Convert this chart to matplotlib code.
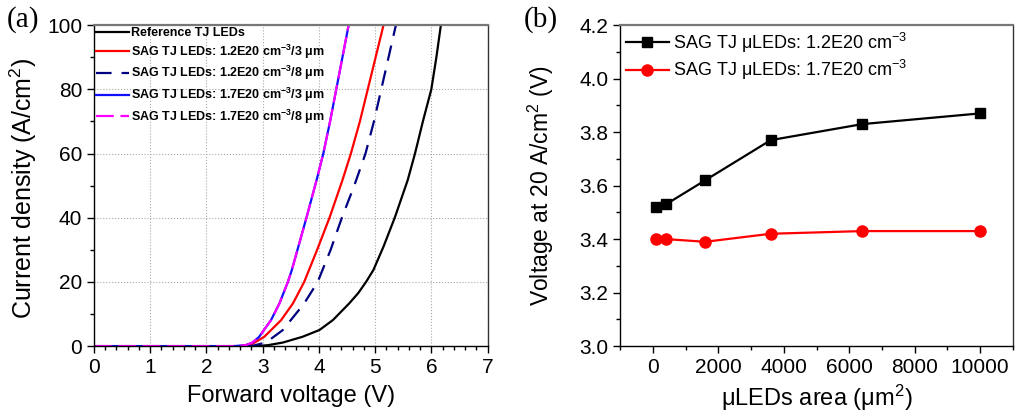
import matplotlib
matplotlib.use('Agg')
import matplotlib.pyplot as plt
from matplotlib.ticker import MultipleLocator, FormatStrFormatter

plt.rcParams['font.family'] = ['Liberation Sans', 'DejaVu Sans']
plt.rcParams['mathtext.default'] = 'regular'

# ---------------- panel (a): J-V curves ----------------
v_ref = [0, 2.9, 3.1, 3.36, 3.71, 4.01, 4.25, 4.54, 4.70, 4.84, 4.97, 5.15, 5.35, 5.58, 5.71, 5.85, 6.0, 6.09, 6.17]
j_ref = [0, 0, 0.3, 1.1, 2.9, 5.0, 8.1, 13.3, 16.5, 20, 23.7, 31, 40, 51.7, 60, 70, 80, 90, 100]

v_12_3 = [0, 2.6, 2.8, 3.03, 3.33, 3.54, 3.74, 3.97, 4.19, 4.42, 4.57, 4.73, 4.87, 5.01, 5.15]
j_12_3 = [0, 0, 0.5, 2.9, 8.1, 13.3, 20, 30, 40, 51.7, 60, 70, 80, 90, 100]

v_12_8 = [0, 2.8, 3.06, 3.36, 3.74, 3.98, 4.21, 4.41, 4.63, 4.83, 4.98, 5.11, 5.24, 5.37]
j_12_8 = [0, 0, 1.1, 5.0, 13.3, 20, 30, 40, 50, 60, 70, 80, 90, 100]

v_17_3 = [0, 2.5, 2.7, 2.82, 2.94, 3.15, 3.30, 3.45, 3.52, 3.78, 3.96, 4.08, 4.20, 4.31, 4.42, 4.53]
j_17_3 = [0, 0, 0.3, 1.1, 2.9, 8.1, 13.3, 20, 23.7, 40, 51.7, 60, 70, 80, 90, 100]
v_17_8 = v_17_3
j_17_8 = j_17_3

labels_a = ['Reference TJ LEDs',
            'SAG TJ LEDs: 1.2E20 cm$^{-3}$/3 μm',
            'SAG TJ LEDs: 1.2E20 cm$^{-3}$/8 μm',
            'SAG TJ LEDs: 1.7E20 cm$^{-3}$/3 μm',
            'SAG TJ LEDs: 1.7E20 cm$^{-3}$/8 μm']

# ---------------- panel (b): voltage vs area ----------------
area = [100, 400, 1600, 3600, 6400, 10000]
v_12 = [3.52, 3.53, 3.62, 3.77, 3.83, 3.87]
v_17 = [3.40, 3.40, 3.39, 3.42, 3.43, 3.43]
labels_b = ['SAG TJ μLEDs: 1.2E20 cm$^{-3}$', 'SAG TJ μLEDs: 1.7E20 cm$^{-3}$']

fig = plt.figure(figsize=(10.2, 4.19), dpi=100)
ax1 = fig.add_axes([0.092, 0.174, 0.386, 0.766])
ax2 = fig.add_axes([0.608, 0.174, 0.385, 0.766])

ax1.plot(v_ref, j_ref, color='black', lw=1.6, label=labels_a[0])
ax1.plot(v_12_3, j_12_3, color='red', lw=1.6, label=labels_a[1])
ax1.plot(v_12_8, j_12_8, color='#000080', lw=1.6, ls=(0, (7, 4.5)), label=labels_a[2])
ax1.plot(v_17_3, j_17_3, color='#1010ff', lw=1.6, label=labels_a[3])
ax1.plot(v_17_8, j_17_8, color='#ff00ff', lw=1.6, ls=(0, (8, 3)), label=labels_a[4])

ax1.set_xlim(0, 7)
ax1.set_ylim(0, 100)
ax1.xaxis.set_major_locator(MultipleLocator(1))
ax1.xaxis.set_minor_locator(MultipleLocator(0.2))
ax1.yaxis.set_major_locator(MultipleLocator(20))
ax1.yaxis.set_minor_locator(MultipleLocator(10))
ax1.grid(True, which='major', color='#aaaaaa', ls=':', lw=0.8)
ax1.set_xlabel('Forward voltage (V)', fontsize=17, labelpad=6)
ax1.set_ylabel('Current density (A/cm$^{2}$)', fontsize=18)
ax1.yaxis.set_label_coords(-0.14, 0.49)
ax1.legend(loc='upper left', frameon=False, prop={'weight': 'bold', 'size': 9},
           handlelength=2.7, handletextpad=0.1, borderaxespad=0.0,
           labelspacing=0.28, borderpad=0.15)

ax2.plot(area, v_12, color='black', lw=1.6, marker='s', ms=6.5, label=labels_b[0])
ax2.plot(area, v_17, color='red', lw=1.6, marker='o', ms=8, label=labels_b[1])
ax2.set_xlim(-1000, 11000)
ax2.set_ylim(3.0, 4.2)
ax2.xaxis.set_major_locator(MultipleLocator(2000))
ax2.xaxis.set_minor_locator(MultipleLocator(1000))
ax2.yaxis.set_major_locator(MultipleLocator(0.2))
ax2.yaxis.set_minor_locator(MultipleLocator(0.1))
ax2.yaxis.set_major_formatter(FormatStrFormatter('%.1f'))
ax2.set_xlabel('μLEDs area (μm$^{2}$)', fontsize=17)
ax2.set_ylabel('Voltage at 20 A/cm$^{2}$ (V)', fontsize=16.5)
ax2.yaxis.set_label_coords(-0.164, 0.5)
ax2.legend(loc='upper left', frameon=False, fontsize=13, handlelength=2.4,
           handletextpad=0.2, borderaxespad=0.1, labelspacing=0.2, borderpad=0.2)

for ax in (ax1, ax2):
    ax.tick_params(which='major', direction='out', length=5, width=1, labelsize=15)
    ax.tick_params(which='minor', direction='out', length=3, width=1)
    for s in ax.spines.values():
        s.set_linewidth(1.0)
    ax.spines['top'].set_color('#777777')
    ax.spines['top'].set_linewidth(1.6)
    ax.spines['right'].set_color('#333333')

fig.text(0.007, 0.985, '(a)', fontsize=21, family='Liberation Serif', va='top')
fig.text(0.513, 0.985, '(b)', fontsize=21, family='Liberation Serif', va='top')

fig.savefig('out.png', dpi=100)
